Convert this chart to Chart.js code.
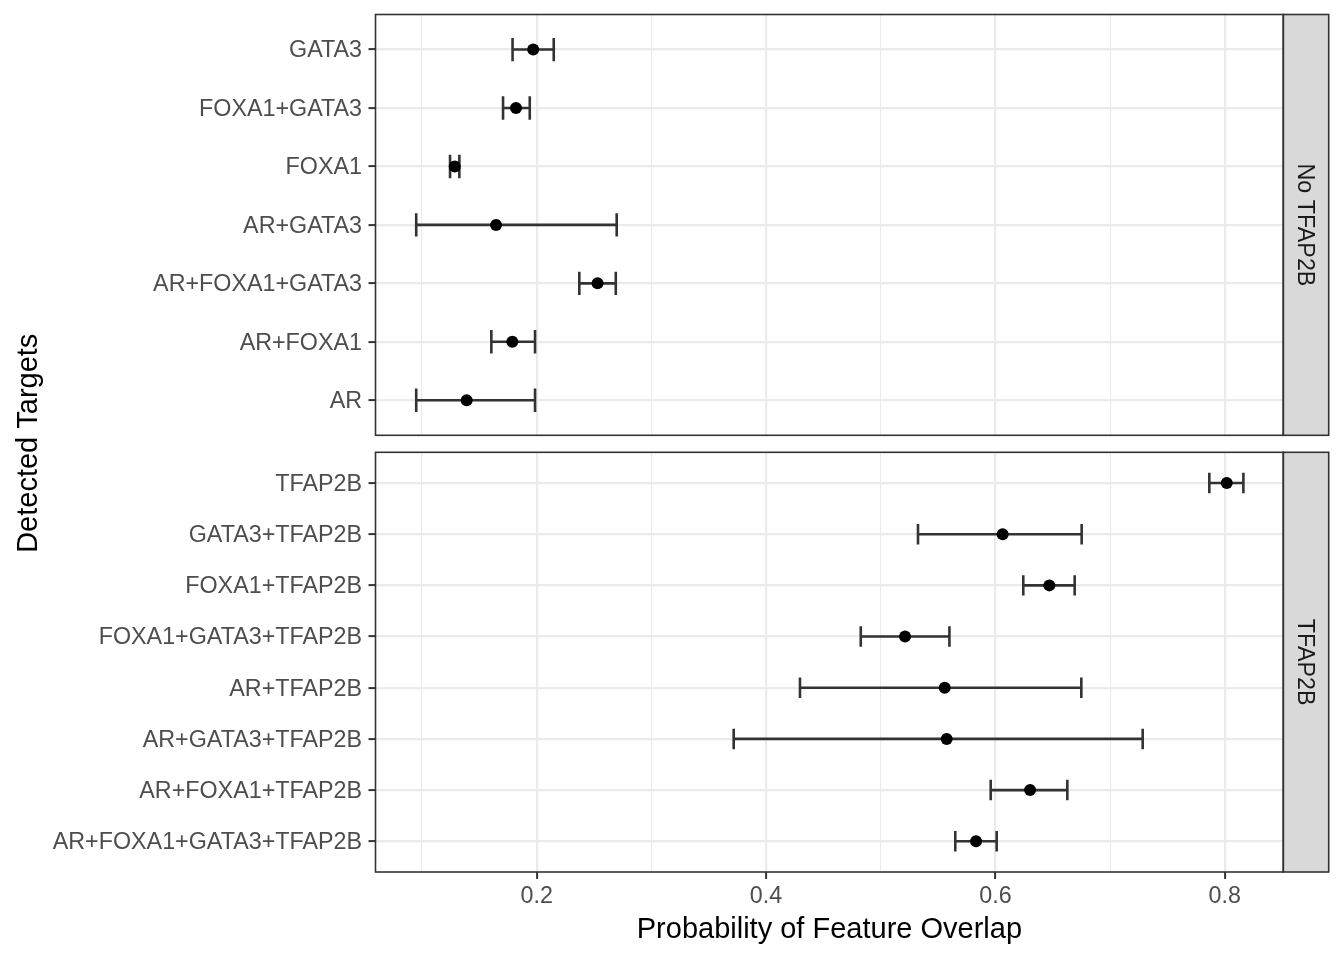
<!DOCTYPE html>
<html>
<head>
<meta charset="utf-8">
<script src="https://cdn.jsdelivr.net/npm/chart.js@4.4.1/dist/chart.umd.min.js"></script>
<style>
    html, body { margin: 0; padding: 0; background: #ffffff; }
    #wrap { position: relative; width: 1344px; height: 960px; }
    canvas { position: absolute; left: 0; top: 0; }
</style>
</head>
<body>
<div id="wrap">
    <canvas id="topPanel" width="1344" height="960"></canvas>
    <canvas id="bottomPanel" width="1344" height="960"></canvas>
</div>
<script>
// panel "No TFAP2B", listed top to bottom
const topTargets = ['GATA3', 'FOXA1+GATA3', 'FOXA1', 'AR+GATA3', 'AR+FOXA1+GATA3', 'AR+FOXA1', 'AR'];
const topMean  = [0.197, 0.182, 0.1286, 0.1646, 0.2531, 0.1788, 0.139];
const topLower = [0.179, 0.1707, 0.1245, 0.095, 0.2372, 0.1605, 0.095];
const topUpper = [0.2149, 0.194, 0.1326, 0.2698, 0.269, 0.1986, 0.1986];

// panel "TFAP2B", listed top to bottom
const bottomTargets = ['TFAP2B', 'GATA3+TFAP2B', 'FOXA1+TFAP2B', 'FOXA1+GATA3+TFAP2B', 'AR+TFAP2B',
                       'AR+GATA3+TFAP2B', 'AR+FOXA1+TFAP2B', 'AR+FOXA1+GATA3+TFAP2B'];
const bottomMean  = [0.8017, 0.6063, 0.647, 0.5212, 0.5558, 0.5575, 0.6302, 0.5831];
const bottomLower = [0.7865, 0.5325, 0.6243, 0.4826, 0.4296, 0.3718, 0.5959, 0.565];
const bottomUpper = [0.8162, 0.6752, 0.6691, 0.5599, 0.6749, 0.7284, 0.6627, 0.6011];

const xMajor = [0.2, 0.4, 0.6, 0.8];
const xTickLabels = ['0.2', '0.4', '0.6', '0.8'];
const xMinor = [0.1, 0.3, 0.5, 0.7];
const xMin = 0.0595, xMax = 0.851;

const FONT = '"Liberation Sans", Arial, Helvetica, sans-serif';
const TICK_SIZE = 23.3;
const TITLE_SIZE = 29;

function majorIndex(v) {
    return xMajor.findIndex(m => Math.abs(m - v) < 1e-9);
}

const errorBarPlugin = {
    id: 'errorBars',
    beforeDatasetsDraw(chart) {
        const ctx = chart.ctx, xs = chart.scales.x, ys = chart.scales.y;
        const ds = chart.data.datasets[0];
        ctx.save();
        ctx.strokeStyle = '#333333';
        ctx.lineWidth = 2.6;
        for (let i = 0; i < ds.lower.length; i++) {
            let x1 = xs.getPixelForValue(ds.lower[i]);
            let x2 = xs.getPixelForValue(ds.upper[i]);
            let yc = ys.getPixelForValue(i);
            let y1 = ys.getPixelForValue(i - 0.2);
            let y2 = ys.getPixelForValue(i + 0.2);
            ctx.beginPath();
            ctx.moveTo(x1, yc); ctx.lineTo(x2, yc);
            ctx.moveTo(x1, y1); ctx.lineTo(x1, y2);
            ctx.moveTo(x2, y1); ctx.lineTo(x2, y2);
            ctx.stroke();
        }
        ctx.restore();
    }
};

const panelFramePlugin = {
    id: 'panelFrame',
    afterDraw(chart, args, opts) {
        const ctx = chart.ctx, a = chart.chartArea;
        const stripW = 45.4;
        ctx.save();
        // strip
        ctx.fillStyle = '#D9D9D9';
        ctx.fillRect(a.right, a.top, stripW, a.bottom - a.top);
        ctx.strokeStyle = '#333333';
        ctx.lineWidth = 1.6;
        ctx.strokeRect(a.right, a.top, stripW, a.bottom - a.top);
        // panel border
        ctx.strokeRect(a.left, a.top, a.right - a.left, a.bottom - a.top);
        // strip text, reading top to bottom
        ctx.translate(a.right + 14.4, (a.top + a.bottom) / 2);
        ctx.rotate(Math.PI / 2);
        ctx.fillStyle = '#1A1A1A';
        ctx.font = TICK_SIZE + 'px ' + FONT;
        ctx.textAlign = 'center';
        ctx.textBaseline = 'alphabetic';
        ctx.fillText(opts.label, 0, 0);
        ctx.restore();

        if (opts.yTitle) {
            ctx.save();
            ctx.translate(37, (14.5 + 872) / 2);
            ctx.rotate(-Math.PI / 2);
            ctx.fillStyle = '#000000';
            ctx.font = TITLE_SIZE + 'px ' + FONT;
            ctx.textAlign = 'center';
            ctx.textBaseline = 'alphabetic';
            ctx.fillText(opts.yTitle, 0, 0);
            ctx.restore();
        }
    }
};

function generatePanelChart(canvas_id, targets, means, lowers, uppers, stripLabel, isBottom) {
    let data = [];
    for (let i = 0; i < targets.length; i++)
        data.push({ x: means[i], y: i });

    new Chart(canvas_id, {
        type: 'scatter',
        data: {
            datasets: [{
                data: data,
                lower: lowers,
                upper: uppers,
                backgroundColor: '#000000',
                borderWidth: 0,
                pointRadius: 6,
                pointHoverRadius: 6
            }]
        },
        options: {
            responsive: false,
            animation: false,
            layout: {
                padding: isBottom
                    ? { left: 0, right: 60.7, top: 452.3, bottom: 0 }
                    : { left: 0, right: 60.7, top: 14.5, bottom: 524.7 }
            },
            plugins: {
                legend: { display: false },
                tooltip: { enabled: false },
                panelFrame: { label: stripLabel, yTitle: isBottom ? '' : 'Detected Targets' }
            },
            scales: {
                x: {
                    type: 'linear',
                    bounds: 'data',
                    min: xMin,
                    max: xMax,
                    afterBuildTicks: (s) => {
                        s.ticks = xMinor.concat(xMajor).sort((a, b) => a - b).map(v => ({ value: v }));
                    },
                    afterFit: (s) => {
                        s.height = isBottom ? 88 : 0;
                        s.paddingLeft = 0;
                        s.paddingRight = 0;
                    },
                    ticks: {
                        display: isBottom,
                        autoSkip: false,
                        maxRotation: 0,
                        padding: 4,
                        color: '#4D4D4D',
                        font: { family: FONT, size: TICK_SIZE },
                        callback: (v) => {
                            let k = majorIndex(v);
                            return k >= 0 ? xTickLabels[k] : '';
                        }
                    },
                    grid: {
                        color: '#EBEBEB',
                        lineWidth: (c) => (c.tick && majorIndex(c.tick.value) >= 0) ? 2.2 : 1.1,
                        drawTicks: isBottom,
                        tickLength: 7,
                        tickWidth: 2,
                        tickColor: (c) => (c.tick && majorIndex(c.tick.value) >= 0) ? '#333333' : 'rgba(0,0,0,0)'
                    },
                    border: { display: false },
                    title: {
                        display: isBottom,
                        text: 'Probability of Feature Overlap',
                        color: '#000000',
                        font: { family: FONT, size: TITLE_SIZE },
                        padding: { top: 0, bottom: 12.8 }
                    }
                },
                y: {
                    type: 'linear',
                    bounds: 'data',
                    reverse: true,
                    min: -0.6,
                    max: targets.length - 0.4,
                    afterBuildTicks: (s) => {
                        s.ticks = targets.map((t, i) => ({ value: i }));
                    },
                    afterFit: (s) => {
                        s.width = 375.5;
                        s.paddingTop = 0;
                        s.paddingBottom = 0;
                    },
                    ticks: {
                        autoSkip: false,
                        padding: 6.5,
                        labelOffset: 1.5,
                        color: '#4D4D4D',
                        font: { family: FONT, size: TICK_SIZE },
                        callback: (v) => targets[v]
                    },
                    grid: {
                        color: '#EBEBEB',
                        lineWidth: 2.2,
                        tickLength: 7,
                        tickWidth: 2,
                        tickColor: '#333333'
                    },
                    border: { display: false }
                }
            }
        },
        plugins: [errorBarPlugin, panelFramePlugin]
    });
}

generatePanelChart('topPanel', topTargets, topMean, topLower, topUpper, 'No TFAP2B', false);
generatePanelChart('bottomPanel', bottomTargets, bottomMean, bottomLower, bottomUpper, 'TFAP2B', true);
</script>
</body>
</html>
